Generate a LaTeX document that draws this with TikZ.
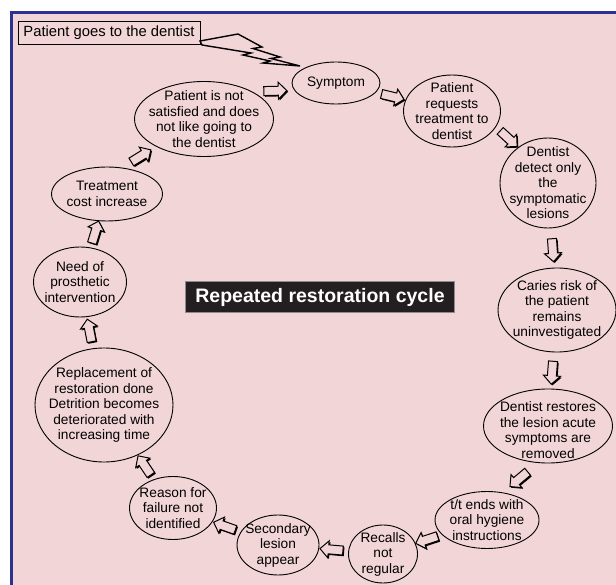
\documentclass[tikz,border=0pt]{standalone}
\usepackage{fontspec}
\setmainfont{Liberation Sans}
\usetikzlibrary{shapes.geometric,shapes.arrows,shadows}
\definecolor{bgpink}{RGB}{242,213,215}
\definecolor{frameblue}{RGB}{46,49,146}
\definecolor{titlebg}{RGB}{35,31,32}
\definecolor{titleborder}{RGB}{140,140,140}
\begin{document}
\begin{tikzpicture}[x=1pt,y=-1pt,
  bub/.style={ellipse, draw=black, line width=0.9pt, fill=bgpink, inner sep=0pt},
  bubtext/.style={align=center, font=\fontsize{13.7}{15.5}\selectfont, inner sep=0pt},
  flow/.style={single arrow, draw=black, line width=1pt, fill=bgpink,
    text width=0pt, text height=4pt, text depth=4pt,
    minimum height=23pt, single arrow head extend=4pt,
    single arrow head indent=0pt, inner sep=0pt, sloped, allow upside down,
    drop shadow={shadow xshift=1.2pt, shadow yshift=-1.2pt, opacity=1, fill=black}},
]
\useasboundingbox (0,0) rectangle (616,585);
\fill[white] (0,0) rectangle (616,585);
\fill[bgpink] (11,12) rectangle (616,585);
\draw[frameblue, line width=2.5pt] (11.3,585) -- (11.3,12.5) -- (616,12.5);

% start box
\node[draw=black, line width=0.8pt, fill=bgpink, minimum width=182pt, minimum height=23pt,
  inner sep=0pt, font=\fontsize{14.8}{17}\selectfont] (start) at (109,33) {Patient goes to the dentist};

% lightning bolt
\draw[line width=1.4pt, fill=bgpink, line join=miter]
  (200,41) -- (238,34) -- (262,47) -- (253,48.5) -- (280,57) -- (271,58.5) -- (300,66)
  -- (263,63) -- (270,61) -- (243,55) -- (251,53) -- (202,45) -- cycle;

% bubbles
\node[bub, minimum width=88pt, minimum height=42pt, label={[bubtext]center:Symptom}] (symptom) at (336,83) {};
\node[bub, minimum width=97pt, minimum height=72pt, label={[bubtext]center:Patient\\requests\\treatment to\\dentist}] (req) at (452,111) {};
\node[bub, minimum width=96pt, minimum height=90pt, label={[bubtext]center:Dentist\\detect only\\the\\symptomatic\\lesions}] (detect) at (548,183) {};
\node[bub, minimum width=118pt, minimum height=84pt, label={[bubtext]center:Caries risk of\\the patient\\remains\\uninvestigated}] (caries) at (557,310) {};
\node[bub, minimum width=129pt, minimum height=74pt, label={[bubtext, yshift=-4pt]center:Dentist restores\\the lesion acute\\symptoms are\\removed}] (restores) at (548,426) {};
\node[bub, minimum width=104pt, minimum height=57pt, label={[bubtext]center:t/t ends with\\oral hygiene\\instructions}] (tt) at (487,520) {};
\node[bub, minimum width=69pt, minimum height=58pt, label={[bubtext]center:Recalls\\not\\regular}] (recalls) at (383,554) {};
\node[bub, minimum width=82pt, minimum height=60pt, label={[bubtext]center:Secondary\\lesion\\appear}] (secondary) at (278,545) {};
\node[bub, minimum width=87pt, minimum height=63pt, label={[bubtext]center:Reason for\\failure not\\identified}] (reason) at (173,508) {};
\node[bub, minimum width=138pt, minimum height=114pt, label={[bubtext]center:Replacement of\\restoration done\\Detrition becomes\\deteriorated with\\increasing time}] (replace) at (104,405) {};
\node[bub, minimum width=93pt, minimum height=70pt, label={[bubtext]center:Need of\\prosthetic\\intervention}] (need) at (80,282) {};
\node[bub, minimum width=111pt, minimum height=54pt, label={[bubtext]center:Treatment\\cost increase}] (cost) at (107,194) {};
\node[bub, minimum width=139pt, minimum height=75pt, label={[bubtext]center:Patient is not\\satisfied and does\\not like going to\\the dentist}] (notsat) at (204,119) {};

% title
\node[fill=titlebg, draw=titleborder, line width=1.2pt, minimum width=269pt, minimum height=31pt,
  inner sep=0pt, text=white, font=\bfseries\fontsize{19.5}{22}\selectfont] (title) at (320,297) {Repeated restoration cycle};

% block arrows
\path (notsat.30) -- (symptom.190) node[flow, midway] {};
\path (symptom) -- (req) node[flow, midway] {};
\path (req.-20) -- (detect.130) node[flow, midway] {};
\path (detect) -- (caries) node[flow, midway] {};
\path (caries) -- (restores) node[flow, midway] {};
\path (restores.-105) -- (tt.60) node[flow, midway] {};
\path (tt) -- (recalls) node[flow, midway] {};
\path (recalls) -- (secondary) node[flow, midway] {};
\path (secondary) -- (reason) node[flow, midway] {};
\path (reason) -- (replace) node[flow, midway] {};
\path (replace) -- (need) node[flow, midway] {};
\path (need) -- (cost) node[flow, midway] {};
\path (cost.60) -- (notsat.210) node[flow, midway] {};
\end{tikzpicture}
\end{document}
